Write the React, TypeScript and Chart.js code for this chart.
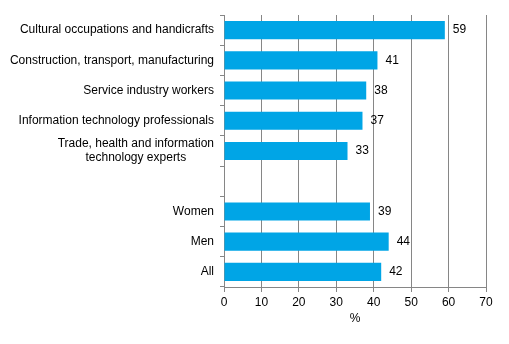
import { useEffect, useRef } from 'react';
import { Chart, registerables } from 'chart.js';

Chart.register(...registerables);

const categories: (string | string[])[] = [
  'Cultural occupations and handicrafts',
  'Construction, transport, manufacturing',
  'Service industry workers',
  'Information technology professionals',
  ['Trade, health and information', 'technology experts'],
  '',
  'Women',
  'Men',
  'All',
];
const values: (number | null)[] = [59, 41, 38, 37, 33, null, 39, 44, 42];
const xMin = 0;
const xMax = 70;
const xStep = 10;
const xTitle = '%';

const FONT = '"Liberation Sans", Arial, sans-serif';
const GRID = '#868686';
const BAR = '#00a5e6';

const labelPlugin = {
  id: 'customLabels',
  afterDraw(chart: any) {
    const ctx = chart.ctx as CanvasRenderingContext2D;
    const y = chart.scales.y;
    ctx.save();
    ctx.font = `12px ${FONT}`;
    ctx.fillStyle = '#000';
    ctx.textBaseline = 'middle';
    const right = y.right - 10;
    const lh = 14;
    categories.forEach((c, i) => {
      const lines = Array.isArray(c) ? c : [c];
      if (!lines.length || (lines.length === 1 && !lines[0])) return;
      const cy = y.getPixelForValue(i);
      const w = Math.max(...lines.map((l) => ctx.measureText(l).width));
      lines.forEach((l, j) => {
        const ly = cy + (j - (lines.length - 1) / 2) * lh;
        if (lines.length === 1) {
          ctx.textAlign = 'right';
          ctx.fillText(l, right, ly);
        } else {
          ctx.textAlign = 'center';
          ctx.fillText(l, right - w / 2, ly);
        }
      });
    });
    const meta = chart.getDatasetMeta(0);
    meta.data.forEach((bar: any, i: number) => {
      const v = values[i];
      if (v == null) return;
      ctx.textAlign = 'left';
      ctx.fillText(String(v), bar.x + 8, bar.y);
    });
    ctx.restore();
  },
};

export default function App() {
  const ref = useRef<HTMLCanvasElement | null>(null);
  useEffect(() => {
    if (!ref.current) return;
    const chart = new Chart(ref.current, {
      type: 'bar',
      data: {
        labels: categories.map((c) => (Array.isArray(c) ? c.join(' ') : c)),
        datasets: [
          {
            data: values,
            backgroundColor: BAR,
            borderWidth: 0,
            barPercentage: 0.6,
            categoryPercentage: 1,
          },
        ],
      },
      options: {
        indexAxis: 'y',
        responsive: false,
        animation: false,
        layout: { padding: { left: 0, right: 23, top: 15, bottom: 0 } },
        plugins: { legend: { display: false }, tooltip: { enabled: false } },
        scales: {
          x: {
            min: xMin,
            max: xMax,
            ticks: { stepSize: xStep, color: '#000', font: { family: FONT, size: 12 }, padding: 3 },
            grid: { color: GRID, tickLength: 5, drawTicks: true },
            border: { display: true, color: GRID },
            title: { display: true, text: xTitle, color: '#000', font: { family: FONT, size: 12 }, padding: { top: 0, bottom: 18 } },
            afterFit: (s: any) => {
              s.height = 57;
            },
          },
          y: {
            ticks: { color: 'rgba(0,0,0,0)', autoSkip: false, font: { family: FONT, size: 12 } },
            grid: { drawOnChartArea: false, drawTicks: true, tickLength: 4, color: GRID, offset: true },
            border: { display: true, color: GRID },
            afterFit: (s: any) => {
              s.width = 224;
            },
          },
        },
      },
      plugins: [labelPlugin],
    });
    return () => chart.destroy();
  }, []);
  return (
    <div style={{ position: 'absolute', left: 0, top: 0, width: 509, height: 344 }}>
      <canvas ref={ref} width={509} height={344} />
    </div>
  );
}
